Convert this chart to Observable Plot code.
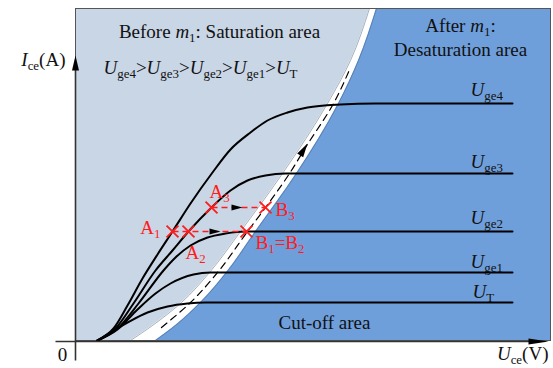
<!DOCTYPE html>
<html>
<head>
<meta charset="utf-8">
<script src="https://cdn.jsdelivr.net/npm/d3@7"></script>
<script src="https://cdn.jsdelivr.net/npm/@observablehq/plot@0.6"></script>
<style>
  html, body { margin: 0; padding: 0; background: #ffffff; }
  #chart { width: 553px; height: 368px; }
</style>
</head>
<body>
<div id="chart"></div>
<script>
// ---- data (units: U_ce along x, I_ce along y) ----
const bandV      = [0, 15, 38, 68, 109, 167, 237, 280, 332];
const lightEdgeU = [55, 77, 106, 134, 165, 207, 252, 275, 294];
const blueEdgeU  = [80, 100, 125, 151, 180, 221, 263, 283, 301];

const midU = [86, 115, 142, 172, 190, 214, 230, 258, 275];
const midV = [13, 38, 68, 109, 133, 167, 193, 237, 273];

const curveNames = ["Uge4", "Uge3", "Uge2", "Uge1", "UT"];
const uge4U = [22, 38, 52, 67, 82, 97, 115, 137, 155, 175, 192, 212, 232, 265, 300, 437];
const uge4V = [0, 12, 35, 62, 86, 109, 137, 168, 191, 208, 220, 228, 233, 236, 237, 237];
const uge3U = [22, 40, 58, 80, 97, 113, 136, 155, 172, 190, 210, 240, 437];
const uge3V = [0, 12, 37, 70, 90, 109, 133, 150, 160, 165, 167, 167, 167];
const uge2U = [22, 42, 63, 88, 100, 115, 132, 150, 170, 437];
const uge2V = [0, 12, 37, 70, 83, 95, 103, 107, 109, 109];
const uge1U = [22, 42, 62, 80, 95, 118, 135, 150, 437];
const uge1V = [0, 11, 31, 47, 57, 66, 68, 68, 68];
const utU   = [22, 52, 72, 92, 112, 130, 437];
const utV   = [0, 18, 28, 34, 37, 38, 38];

const pointNames = ["A1", "A2", "A3", "B3", "B1=B2"];
const pointU = [97, 113, 136, 190, 171];
const pointV = [109, 109, 133, 133, 109];

const moveFrom = ["A1", "A3"];
const moveFromU = [97, 136];
const moveToU = [171, 190];
const moveV = [109, 133];
const moveArrowU = [145, 167];

const bandArrowU = [232];
const bandArrowV = [197];

const curveLabels = ["*U*_{ge4}", "*U*_{ge3}", "*U*_{ge2}", "*U*_{ge1}", "*U*_{T}"];
const curveLabelU = [395, 395, 395, 395, 397];
const curveLabelV = [245, 173, 117, 73, 43];

const areaLabels = ["Before *m*_{1}: Saturation area",
  "*U*_{ge4}>*U*_{ge3}>*U*_{ge2}>*U*_{ge1}>*U*_{T}",
  "After *m*_{1}:", "Desaturation area", "Cut-off area"];
const areaLabelU = [144, 125, 385, 385, 249];
const areaLabelV = [303, 267, 309, 285, 12];

const pointLabels = ["A_{1}", "A_{2}", "A_{3}", "B_{3}", "B_{1}=B_{2}"];
const pointLabelU = [85, 110, 134, 200, 180];
const pointLabelV = [107, 82, 143, 125, 92];

const axisLabels = ["*I*_{ce}(A)", "0", "*U*_{ce}(V)"];
const axisLabelU = [-10, -13, 473];
const axisLabelV = [275, -20, -19];
const axisLabelAnchor = ["end", "middle", "end"];

const axisLines = [{u1: 0, v1: -20, u2: 0, v2: 276}, {u1: -20, v1: -1, u2: 458, v2: -1}];
const axisTipsUp = [{u: 0, v: 285}];
const axisTipsRight = [{u: 473, v: -1}];

// ---- build tables ----
const band = bandV.map((v, i) => ({v, light: lightEdgeU[i], blue: blueEdgeU[i]}));
const mid = midU.map((u, i) => ({u, v: midV[i]}));
const curveU = [uge4U, uge3U, uge2U, uge1U, utU];
const curveV = [uge4V, uge3V, uge2V, uge1V, utV];
const curves = curveNames.flatMap((name, k) => curveU[k].map((u, i) => ({name, u, v: curveV[k][i]})));
const points = pointNames.map((name, i) => ({name, u: pointU[i], v: pointV[i]}));
const moves = moveFrom.map((name, i) => ({name, u1: moveFromU[i], u2: moveToU[i], v: moveV[i], ua: moveArrowU[i]}));
const bandArrow = bandArrowU.map((u, i) => ({u, v: bandArrowV[i]}));
const cLabels = curveLabels.map((t, i) => ({t, u: curveLabelU[i], v: curveLabelV[i]}));
const aLabels = areaLabels.map((t, i) => ({t, u: areaLabelU[i], v: areaLabelV[i]}));
const pLabels = pointLabels.map((t, i) => ({t, u: pointLabelU[i], v: pointLabelV[i]}));
const xLabels = axisLabels.map((t, i) => ({t, u: axisLabelU[i], v: axisLabelV[i], a: axisLabelAnchor[i]}));

// filled arrowhead symbol, tip at the anchor point
function arrowHead(angleDeg, len, hw) {
  const a = angleDeg * Math.PI / 180, c = Math.cos(a), s = Math.sin(a);
  return {
    draw(ctx) {
      const bx = -len * c, by = -len * s, px = -s * hw, py = c * hw;
      ctx.moveTo(0, 0);
      ctx.lineTo(bx + px, by + py);
      ctx.lineTo(bx - px, by - py);
      ctx.closePath();
    }
  };
}

const FONT = "'Liberation Serif', 'Times New Roman', serif";
const RED = "#ff1c1c";

const chart = Plot.plot({
  width: 553,
  height: 368,
  marginLeft: 75,
  marginRight: 3,
  marginTop: 8,
  marginBottom: 28,
  x: {domain: [0, 475], axis: null},
  y: {domain: [0, 332], axis: null},
  style: {fontFamily: FONT, fontSize: "19px", background: "white", overflow: "visible"},
  marks: [
    Plot.areaX(band, {y: "v", x1: 0, x2: "light", fill: "#c9d6e6", curve: "monotone-y"}),
    Plot.areaX(band, {y: "v", x1: "blue", x2: 475, fill: "#6f9fdb", curve: "monotone-y"}),
    Plot.lineX(band, {y: "v", x: "light", stroke: "#6a7a8c", strokeWidth: 0.6, curve: "monotone-y"}),
    Plot.lineX(band, {y: "v", x: "blue", stroke: "#4a6a99", strokeWidth: 0.6, curve: "monotone-y"}),
    Plot.frame({stroke: "#555", strokeWidth: 1}),
    Plot.line(mid, {x: "u", y: "v", stroke: "black", strokeWidth: 1.2, strokeDasharray: "7,5", curve: "monotone-y"}),
    Plot.dot(bandArrow, {x: "u", y: "v", symbol: arrowHead(-58.4, 14, 3.5), fill: "black", stroke: "none"}),
    Plot.line(curves, {x: "u", y: "v", z: "name", stroke: "black", strokeWidth: 2, curve: "monotone-x"}),
    Plot.link(moves, {x1: "u1", x2: "u2", y1: "v", y2: "v", stroke: RED, strokeWidth: 1.4, strokeDasharray: "6,4"}),
    Plot.dot(moves, {x: "ua", y: "v", symbol: arrowHead(0, 11, 3), fill: "black", stroke: "none"}),
    Plot.dot(points, {x: "u", y: "v", symbol: "times", r: 5.5, stroke: RED, strokeWidth: 1.8}),
    Plot.link(axisLines, {x1: "u1", y1: "v1", x2: "u2", y2: "v2", stroke: "#333", strokeWidth: 1.6}),
    Plot.dot(axisTipsUp, {x: "u", y: "v", symbol: arrowHead(-90, 15, 3.5), fill: "black", stroke: "none"}),
    Plot.dot(axisTipsRight, {x: "u", y: "v", symbol: arrowHead(0, 20, 3), fill: "black", stroke: "none"}),
    Plot.text(aLabels, {x: "u", y: "v", text: "t", lineAnchor: "bottom", textAnchor: "middle", fill: "#111", fontSize: 19}),
    Plot.text(cLabels, {x: "u", y: "v", text: "t", lineAnchor: "bottom", textAnchor: "start", fill: "#111", fontSize: 19}),
    Plot.text(pLabels.slice(0, 1), {x: "u", y: "v", text: "t", lineAnchor: "bottom", textAnchor: "end", fill: RED, fontSize: 19}),
    Plot.text(pLabels.slice(1), {x: "u", y: "v", text: "t", lineAnchor: "bottom", textAnchor: "start", fill: RED, fontSize: 19}),
    Plot.text(xLabels.filter(d => d.a === "end"), {x: "u", y: "v", text: "t", lineAnchor: "bottom", textAnchor: "end", fill: "#111", fontSize: 19}),
    Plot.text(xLabels.filter(d => d.a === "middle"), {x: "u", y: "v", text: "t", lineAnchor: "bottom", textAnchor: "middle", fill: "#111", fontSize: 19})
  ]
});

// turn *italic* and _{subscript} markup into tspans
function richText(svg) {
  const re = /\*([^*]+)\*|_\{([^}]+)\}|([^*_]+)/g;
  svg.querySelectorAll("text").forEach(t => {
    const s = t.textContent;
    if (!/[*_]/.test(s)) return;
    while (t.firstChild) t.removeChild(t.firstChild);
    t.style.whiteSpace = "pre";
    let shifted = false, m;
    re.lastIndex = 0;
    while ((m = re.exec(s))) {
      const ts = document.createElementNS("http://www.w3.org/2000/svg", "tspan");
      if (m[2] !== undefined) {
        ts.textContent = m[2];
        ts.setAttribute("font-size", "68%");
        if (!shifted) { ts.setAttribute("dy", "0.35em"); shifted = true; }
      } else {
        ts.textContent = m[1] !== undefined ? m[1] : m[3];
        if (m[1] !== undefined) ts.setAttribute("font-style", "italic");
        if (shifted) { ts.setAttribute("dy", "-0.238em"); shifted = false; }
      }
      t.appendChild(ts);
    }
  });
}
richText(chart);
document.getElementById("chart").appendChild(chart);
</script>
</body>
</html>
